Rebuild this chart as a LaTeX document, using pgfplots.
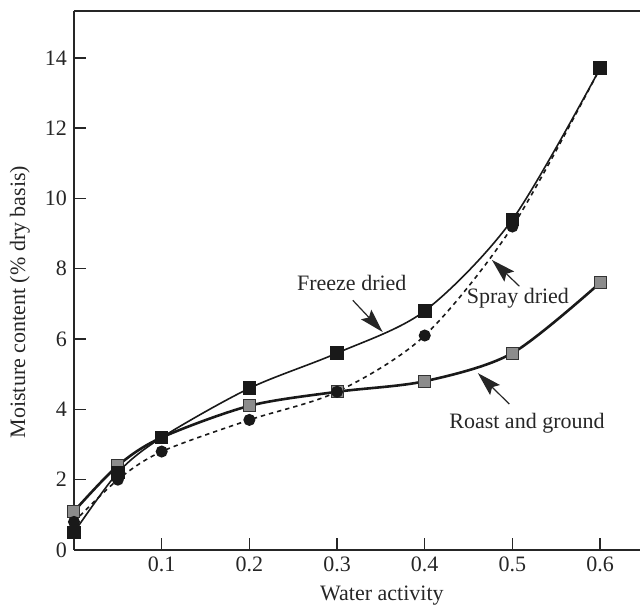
\documentclass[border=0pt]{standalone}
\usepackage{pgfplots}
\pgfplotsset{compat=1.18}
\usepackage{fontspec}
\setmainfont{Liberation Serif}
\usetikzlibrary{arrows.meta}
\begin{document}
\begin{tikzpicture}
\pgfplotstableread{
x y
0 0.5
0.05 2.2
0.1 3.2
0.2 4.6
0.3 5.6
0.4 6.8
0.5 9.4
0.6 13.7
}\freeze
\pgfplotstableread{
x y
0 0.8
0.05 2.0
0.1 2.8
0.2 3.7
0.3 4.5
0.4 6.1
0.5 9.2
0.6 13.7
}\spray
\pgfplotstableread{
x y
0 1.1
0.05 2.4
0.1 3.2
0.2 4.1
0.3 4.5
0.4 4.8
0.5 5.6
0.6 7.6
}\roast
\begin{axis}[
  scale only axis, width=283pt, height=269.5pt,
  xmin=0, xmax=0.6455, ymin=0, ymax=15.33,
  axis x line*=bottom, axis y line*=left,
  axis line style={line width=0.75pt, black!85},
  xtick={0.1,0.2,0.3,0.4,0.5,0.6},
  ytick={0,2,4,6,8,10,12,14},
  xticklabel style={/pgf/number format/fixed, /pgf/number format/precision=1},
  /pgf/number format/assume math mode=true,
  tick align=inside, major tick length=6pt,
  tick style={line width=0.75pt, black!85},
  font=\fontsize{11}{13}\selectfont,
  ticklabel style={font=\fontsize{11}{13}\selectfont, text=black!85},
  xlabel={Water activity},
  ylabel={Moisture content (\% dry basis)},
  xlabel style={at={(axis description cs:0.544,-0.0853)}, anchor=center, text=black!85},
  ylabel style={at={(axis description cs:-0.0955,0.46)}, anchor=center, text=black!85},
  clip=false,
]
\addplot[line width=1.3pt, black!90, smooth, tension=0.5, mark=square*, mark size=3pt,
  mark options={fill=black!45, draw=black!80, line width=0.5pt, solid}] table {\roast};
\addplot[line width=0.8pt, black!90, smooth, tension=0.5, mark=square*, mark size=3pt,
  mark options={fill=black!90, draw=black!90, solid}] table {\freeze};
\addplot[line width=0.8pt, black!90, dash pattern=on 2.2pt off 2pt, smooth, tension=0.5, mark=*, mark size=2.6pt,
  mark options={fill=black!90, draw=black!90, solid}] table {\spray};
\node[text=black!85] at (axis cs:0.3168,7.59) {Freeze dried};
\draw[-{Stealth[length=12pt,width=7pt,inset=2pt]}, line width=0.6pt, black!85] (axis cs:0.318,7.10) -- (axis cs:0.352,6.20);
\node[text=black!85] at (axis cs:0.5063,7.17) {Spray dried};
\draw[-{Stealth[length=12pt,width=7pt,inset=2pt]}, line width=0.6pt, black!85] (axis cs:0.508,7.50) -- (axis cs:0.4766,8.25);
\node[text=black!85] at (axis cs:0.5166,3.61) {Roast and ground};
\draw[-{Stealth[length=12pt,width=7pt,inset=2pt]}, line width=0.6pt, black!85] (axis cs:0.4965,4.15) -- (axis cs:0.4606,5.03);
\draw[line width=0.75pt, black!85] (rel axis cs:0,1) -- (rel axis cs:1,1);
\end{axis}
\pgfresetboundingbox
\path[use as bounding box] ([xshift=-37pt,yshift=-29pt]current axis.south west) rectangle ([yshift=5.5pt]current axis.north east);
\end{tikzpicture}
\end{document}
